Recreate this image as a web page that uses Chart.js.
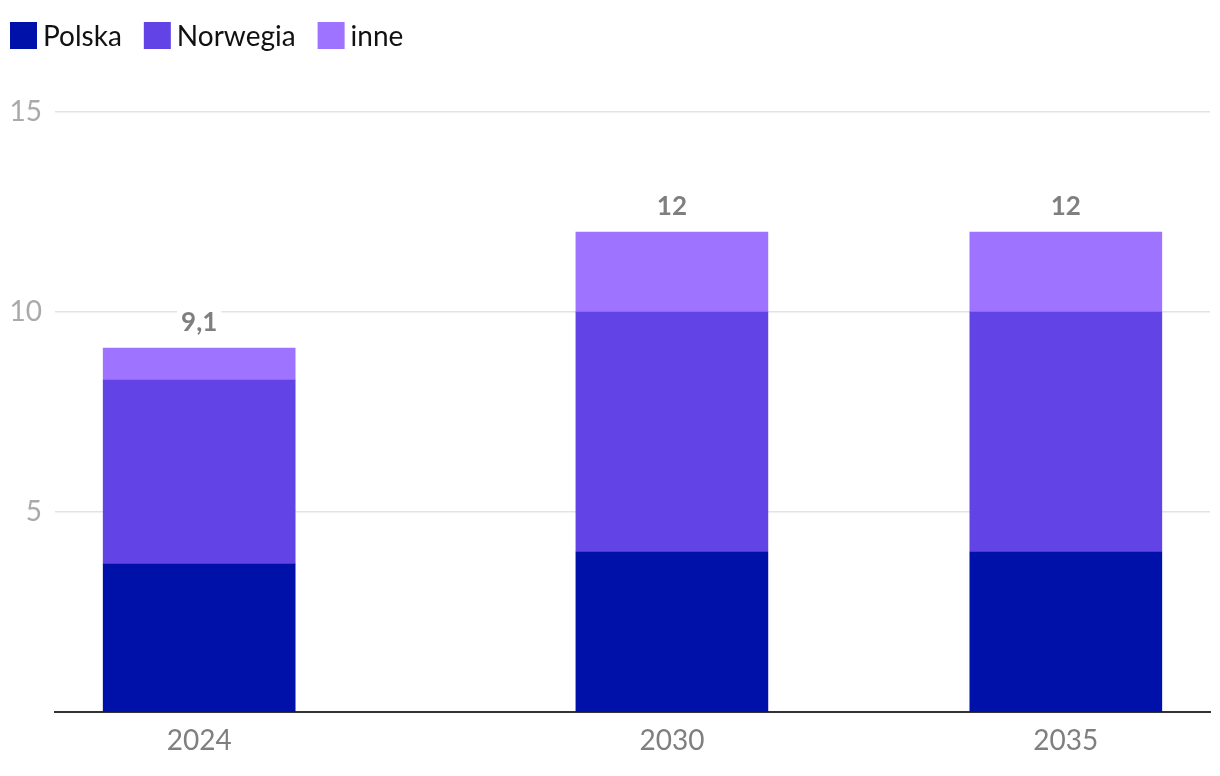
<!DOCTYPE html>
<html>
<head>
<meta charset="utf-8">
<script src="https://cdn.jsdelivr.net/npm/chart.js@4"></script>
<style>
html,body{margin:0;padding:0;background:#fff;}
#wrap{width:1220px;height:776px;}
</style>
</head>
<body>
<div id="wrap"><canvas id="c" width="1220" height="776"></canvas></div>
<script>
const years = [2024, 2030, 2035];
const polska = [3.7, 4, 4];
const norwegia = [4.6, 6, 6];
const inne = [0.8, 2, 2];
const totals = [9.1, 12, 12];
const yTicks = [5, 10, 15];
const seriesNames = ['Polska', 'Norwegia', 'inne'];

const pts = arr => years.map((y, i) => ({x: y, y: arr[i]}));
const fmt = v => String(v).replace('.', ',');

const totalLabels = {
  id: 'totalLabels',
  afterDatasetsDraw(chart) {
    const ctx = chart.ctx;
    const last = chart.getDatasetMeta(chart.data.datasets.length - 1);
    ctx.save();
    ctx.font = 'bold 26px Lato';
    ctx.textAlign = 'center';
    ctx.textBaseline = 'middle';
    last.data.forEach((bar, i) => {
      const txt = fmt(totals[i]);
      const w = ctx.measureText(txt).width;
      const ty = bar.y - 25;
      ctx.fillStyle = '#fff';
      ctx.fillRect(bar.x - w / 2 - 4, ty - 15, w + 8, 30);
      ctx.fillStyle = '#7f7f7f';
      ctx.fillText(txt, bar.x, ty);
    });
    ctx.restore();
  }
};

const topLegend = {
  id: 'topLegend',
  afterDraw(chart) {
    const ctx = chart.ctx;
    ctx.save();
    ctx.font = '28px Lato';
    ctx.textBaseline = 'middle';
    ctx.textAlign = 'left';
    let x = 10;
    const top = 22, size = 27, cy = top + size / 2;
    chart.data.datasets.forEach(ds => {
      ctx.fillStyle = ds.backgroundColor;
      ctx.fillRect(x, top, size, size);
      x += size + 6;
      ctx.fillStyle = '#111';
      ctx.fillText(ds.label, x, cy + 1);
      x += ctx.measureText(ds.label).width + 22;
    });
    ctx.restore();
  }
};

new Chart(document.getElementById('c'), {
  type: 'bar',
  data: {
    datasets: [
      {label: seriesNames[0], data: pts(polska), backgroundColor: '#0011AA'},
      {label: seriesNames[1], data: pts(norwegia), backgroundColor: '#6244E6'},
      {label: seriesNames[2], data: pts(inne), backgroundColor: '#9D73FF'}
    ]
  },
  options: {
    responsive: false,
    animation: false,
    barThickness: 192,
    layout: {padding: {left: 0, right: 10, top: 112, bottom: 0}},
    plugins: {
      legend: {display: false},
      tooltip: {enabled: false}
    },
    scales: {
      x: {
        type: 'linear', stacked: true, offset: false,
        min: 2022.17, max: 2036.83,
        afterBuildTicks: axis => { axis.ticks = years.map(v => ({value: v})); },
        afterFit: s => { s.height = 64; },
        ticks: {
          color: '#7f7f7f', font: {family: 'Lato', size: 28}, padding: 12,
          autoSkip: false, maxRotation: 0,
          callback: v => String(v)
        },
        grid: {display: false, drawTicks: false, offset: false},
        border: {display: true, color: '#333', width: 2}
      },
      y: {
        stacked: true, min: 0, max: 15,
        afterBuildTicks: axis => { axis.ticks = yTicks.map(v => ({value: v})); },
        afterFit: s => { s.width = 55; },
        ticks: {
          color: '#aaaaaa', font: {family: 'Lato', size: 28}, padding: 13,
          callback: v => String(v)
        },
        grid: {color: '#e3e3e3', lineWidth: 1.5, drawTicks: false},
        border: {display: false}
      }
    }
  },
  plugins: [totalLabels, topLegend]
});
</script>
</body>
</html>
